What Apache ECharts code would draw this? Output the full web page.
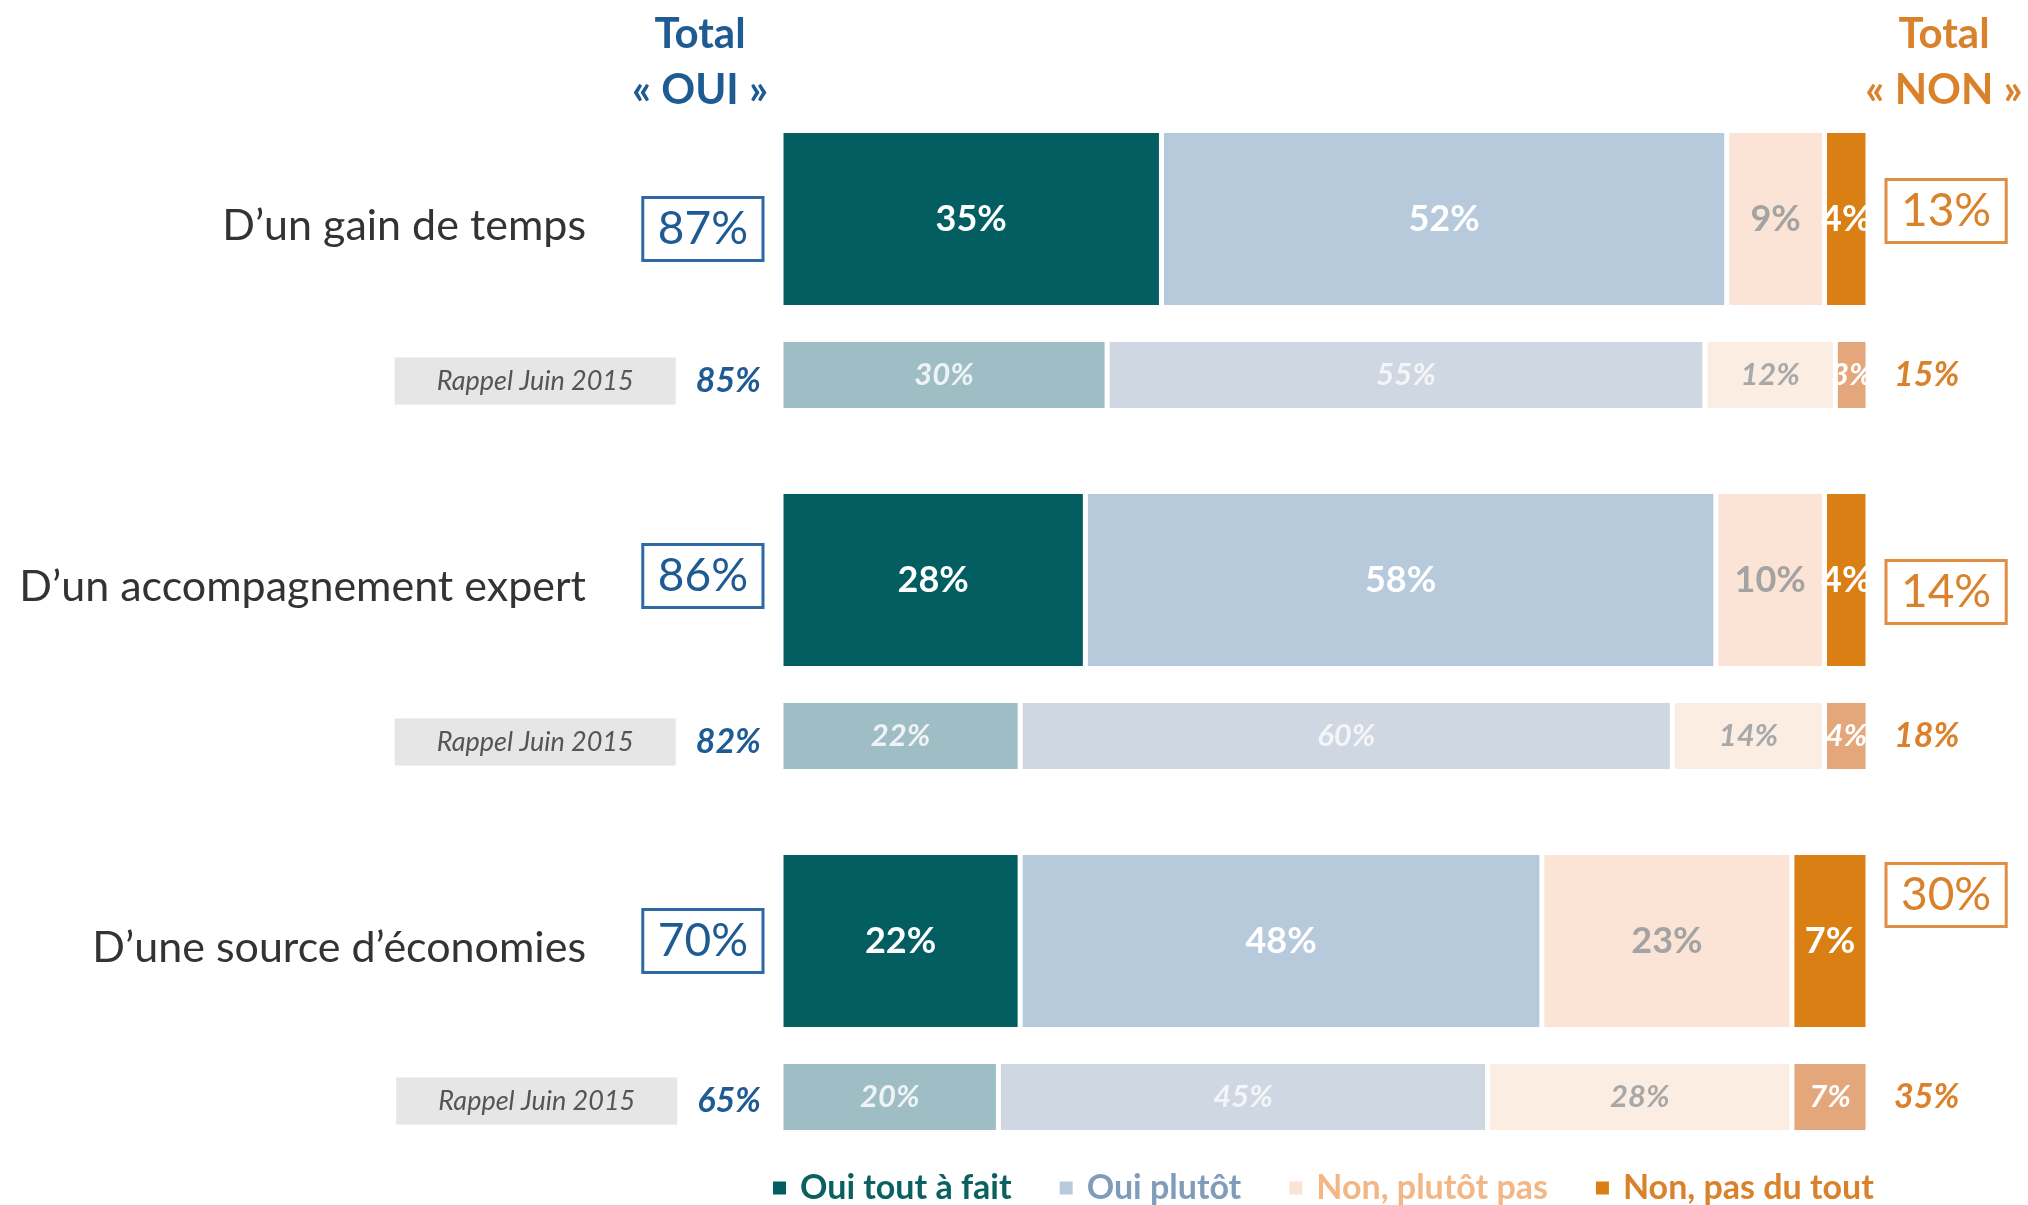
<!DOCTYPE html>
<html>
<head>
<meta charset="utf-8">
<script src="https://cdn.jsdelivr.net/npm/echarts@6/dist/echarts.min.js"></script>
<style>
html,body{margin:0;padding:0;background:#fff;}
#chart{width:2028px;height:1205px;}
</style>
</head>
<body>
<div id="chart"></div>
<script>
// ---------- DATA ----------
const categories = ['D\u2019un gain de temps', 'D\u2019un accompagnement expert', 'D\u2019une source d\u2019\u00e9conomies'];
const seriesNames = ['Oui tout \u00e0 fait', 'Oui plut\u00f4t', 'Non, plut\u00f4t pas', 'Non, pas du tout'];
const ouiToutAFait = [35, 28, 22];
const ouiPlutot = [52, 58, 48];
const nonPlutotPas = [9, 10, 23];
const nonPasDuTout = [4, 4, 7];
const ouiToutAFait2015 = [30, 22, 20];
const ouiPlutot2015 = [55, 60, 45];
const nonPlutotPas2015 = [12, 14, 28];
const nonPasDuTout2015 = [3, 4, 7];
const totalOui = [87, 86, 70];
const totalNon = [13, 14, 30];
const totalOui2015 = [85, 82, 65];
const totalNon2015 = [15, 18, 35];
const rappelLabel = 'Rappel Juin 2015';
const headerOui = 'Total\n\u00ab OUI \u00bb';
const headerNon = 'Total\n\u00ab NON \u00bb';

// ---------- STYLE ----------
const FONT = 'Lato, "Open Sans", sans-serif';
const bigColors = ['#035e62', '#b7cadc', '#fbe3d5', '#da7f14'];
const smallColors = ['#9ebdc5', '#cfd8e2', '#fcede3', '#e3a77b'];
const bigLabelColors = ['#ffffff', '#ffffff', '#a3a3a3', '#ffffff'];
const smallLabelColors = ['#eef3f5', '#f3f5f8', '#a8a8a8', '#ffffff'];
const legendTextColors = ['#0b6160', '#7f9cbb', '#f2b785', '#d9822b'];
const BLUE = '#1f5b93';
const ORANGE = '#d9822b';
const ouiBoxShiftY = [10, -4, 0];
const nonBoxShiftY = [-8, 12, -46];
const rappelShiftY = [6, 6, 4];
const BIG_W = 177, SMALL_W = 71, GAP = '18%';
const zeros = categories.map(() => 0); // anchors for side labels (no length)

const bigSets = [ouiToutAFait, ouiPlutot, nonPlutotPas, nonPasDuTout];
const smallSets = [ouiToutAFait2015, ouiPlutot2015, nonPlutotPas2015, nonPasDuTout2015];

function anchor(name, stack, width, label, shifts) {
  const s = {
    name: name, type: 'bar', stack: stack, barWidth: width, barGap: GAP,
    data: zeros, silent: true,
    itemStyle: { color: 'rgba(0,0,0,0)', borderWidth: 0 },
    label: label
  };
  if (shifts) s.labelLayout = p => ({ dy: shifts[p.dataIndex] });
  return s;
}

const series = [];
series.push(anchor('totalOui', 'big', BIG_W, {
  show: true, position: 'left', distance: 18,
  formatter: p => totalOui[p.dataIndex] + '%',
  fontFamily: FONT, fontSize: 46, color: BLUE, lineHeight: 50,
  borderColor: '#2e69a3', borderWidth: 3, padding: [7, 15, 6, 15]
}, ouiBoxShiftY));
bigSets.forEach((d, i) => series.push({
  name: seriesNames[i], type: 'bar', stack: 'big', barWidth: BIG_W, barGap: GAP,
  data: d,
  itemStyle: { color: bigColors[i], borderColor: '#ffffff', borderWidth: 2.5 },
  label: { show: true, position: 'inside', formatter: '{c}%', fontFamily: FONT,
    fontSize: 36, fontWeight: 'bold', color: bigLabelColors[i] }
}));
series.push(anchor('totalNon', 'big', BIG_W, {
  show: true, position: 'right', distance: 18,
  formatter: p => totalNon[p.dataIndex] + '%',
  fontFamily: FONT, fontSize: 46, color: ORANGE, lineHeight: 50,
  borderColor: '#e08e44', borderWidth: 3, padding: [7, 15, 6, 15]
}, nonBoxShiftY));

series.push(anchor('rappel', 'small', SMALL_W, {
  show: true, position: 'left', distance: 20,
  formatter: p => '{r|' + rappelLabel + '}{g|}{v|' + totalOui2015[p.dataIndex] + '%}',
  rich: {
    r: { backgroundColor: '#e6e6e6', padding: [10, 42, 10, 42], fontSize: 27, lineHeight: 31,
         fontStyle: 'italic', color: '#555555', fontFamily: FONT, verticalAlign: 'middle' },
    g: { width: 20 },
    v: { fontSize: 34, fontStyle: 'italic', fontWeight: 'bold', color: BLUE, fontFamily: FONT, verticalAlign: 'middle' }
  }
}, rappelShiftY));
smallSets.forEach((d, i) => series.push({
  name: seriesNames[i] + ' (2015)', type: 'bar', stack: 'small', barWidth: SMALL_W, barGap: GAP,
  data: d,
  itemStyle: { color: smallColors[i], borderColor: '#ffffff', borderWidth: 2.5 },
  label: { show: true, position: 'inside', formatter: '{c}%', fontFamily: FONT,
    fontSize: 31, fontWeight: 'bold', fontStyle: 'italic', color: smallLabelColors[i] }
}));
series.push(anchor('totalNon2015', 'small', SMALL_W, {
  show: true, position: 'right', distance: 26,
  formatter: p => totalNon2015[p.dataIndex] + '%',
  fontFamily: FONT, fontSize: 34, fontStyle: 'italic', fontWeight: 'bold', color: ORANGE
}));

const chart = echarts.init(document.getElementById('chart'), null, { renderer: 'canvas' });
chart.setOption({
  backgroundColor: '#ffffff',
  animation: false,
  grid: { left: 781, right: 160, top: 90, height: 1083, containLabel: false },
  xAxis: { type: 'value', min: 0, max: 100, show: false },
  yAxis: {
    type: 'category', inverse: true, data: categories,
    axisLine: { show: false }, axisTick: { show: false }, splitLine: { show: false },
    axisLabel: { fontFamily: FONT, fontSize: 43, color: '#333333', margin: 195,
      verticalAlign: 'bottom', lineHeight: 88 }
  },
  legend: {
    data: seriesNames.map((n, i) => ({ name: n, textStyle: { color: legendTextColors[i] } })),
    left: 766, top: 1166, icon: 'rect', itemWidth: 15, itemHeight: 15, itemGap: 46,
    selectedMode: false,
    textStyle: { fontFamily: FONT, fontSize: 34, fontWeight: 'bold', padding: [0, 0, 0, 8] }
  },
  graphic: [
    { type: 'text', x: 700, y: 6, style: { text: headerOui, textAlign: 'center', textVerticalAlign: 'top',
      font: 'bold 42px ' + FONT, lineHeight: 56, fill: BLUE } },
    { type: 'text', x: 1944, y: 6, style: { text: headerNon, textAlign: 'center', textVerticalAlign: 'top',
      font: 'bold 42px ' + FONT, lineHeight: 56, fill: ORANGE } }
  ],
  series: series
});
</script>
</body>
</html>
